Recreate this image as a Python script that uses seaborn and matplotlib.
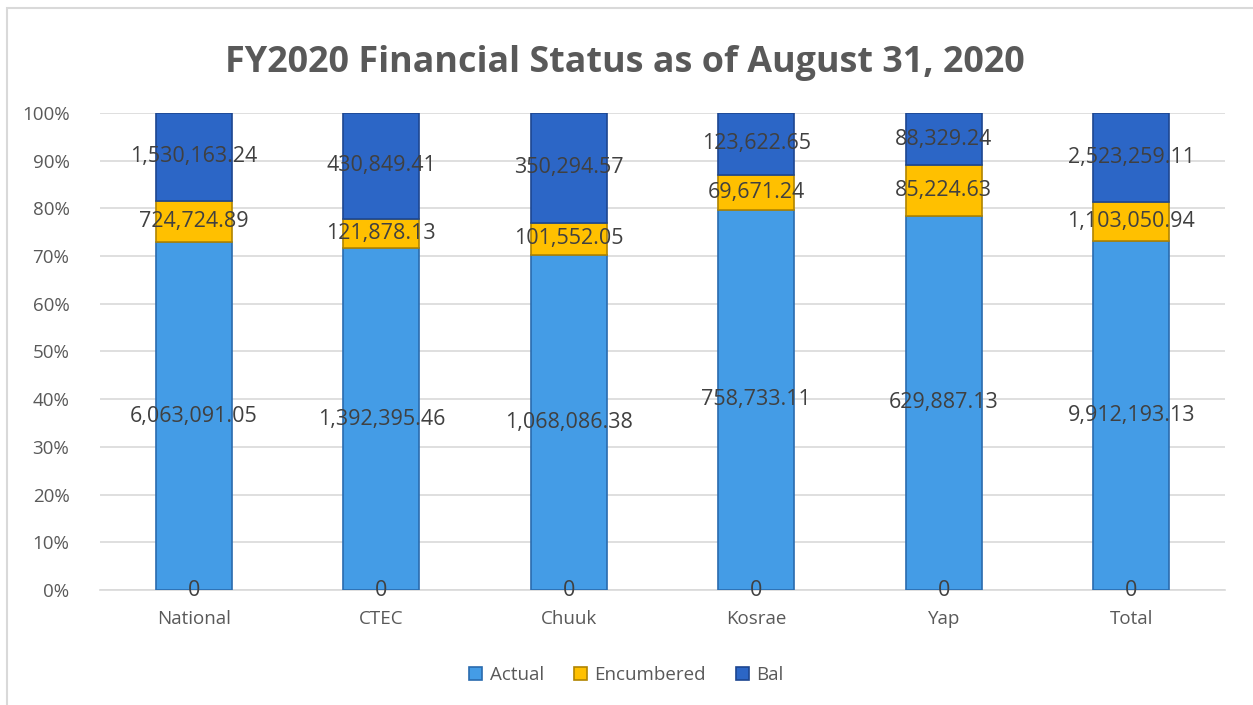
import matplotlib
matplotlib.use("Agg")
import matplotlib.pyplot as plt
from matplotlib.patches import Rectangle
from matplotlib.ticker import PercentFormatter
import seaborn as sns
import numpy as np

categories = ["National", "CTEC", "Chuuk", "Kosrae", "Yap", "Total"]
actual = [6063091.05, 1392395.46, 1068086.38, 758733.11, 629887.13, 9912193.13]
encumbered = [724724.89, 121878.13, 101552.05, 69671.24, 85224.63, 1103050.94]
bal = [1530163.24, 430849.41, 350294.57, 123622.65, 88329.24, 2523259.11]
zero_series = [0, 0, 0, 0, 0, 0]

series_names = ["Actual", "Encumbered", "Bal"]
colors = ["#449CE6", "#FFC000", "#2C66C6"]
edges = ["#2A6BAE", "#B08400", "#1D4690"]

sns.set_style("white")
plt.rcParams["font.family"] = ["Open Sans", "DejaVu Sans"]

vals = np.array([actual, encumbered, bal])
totals = vals.sum(axis=0)
pct = vals / totals * 100

fig = plt.figure(figsize=(12.53, 7.05), dpi=100)
ax = fig.add_axes([0.0798, 0.163, 0.8979, 0.677])

bottom = np.zeros(len(categories))
for i, name in enumerate(series_names):
    sns.barplot(x=categories, y=pct[i], bottom=bottom, color=colors[i], width=0.405,
                saturation=1, edgecolor=edges[i], linewidth=1.2, ax=ax, label=name, zorder=3)
    raw = vals[i]
    for j in range(len(categories)):
        ax.text(j, bottom[j] + pct[i][j] / 2, f"{raw[j]:,.2f}", ha="center", va="center",
                fontsize=15.5, color="#404040", zorder=5)
    bottom = bottom + pct[i]

# the zero-value series labels at the base of each bar
for j, v in enumerate(zero_series):
    ax.text(j, 0, f"{v}", ha="center", va="center", fontsize=15.5, color="#404040", zorder=5)

handles, labels = ax.get_legend_handles_labels()
if ax.get_legend() is not None:
    ax.get_legend().remove()

ax.set_xlim(-0.5, 5.5)
ax.set_ylim(0, 100)
ax.set_yticks(np.arange(0, 101, 10))
ax.yaxis.set_major_formatter(PercentFormatter(decimals=0))
ax.grid(axis="y", color="#D9D9D9", linewidth=1.2, zorder=0)
ax.set_axisbelow(True)
for s in ["top", "right", "left"]:
    ax.spines[s].set_visible(False)
ax.spines["bottom"].set_color("#D9D9D9")
ax.spines["bottom"].set_linewidth(1.2)
ax.tick_params(axis="y", labelsize=13.5, colors="#595959", length=0, pad=22)
ax.tick_params(axis="x", labelsize=13.5, colors="#595959", length=0, pad=14)
ax.set_xlabel("")
ax.set_ylabel("")

fig.text(0.499, 0.91, "FY2020 Financial Status as of August 31, 2020", ha="center", va="center",
         fontsize=25.8, fontweight="bold", color="#595959")

fig.legend(handles, labels, loc="center", bbox_to_anchor=(0.5, 0.043), ncol=3, frameon=False,
           fontsize=13.5, handlelength=0.7, handleheight=0.7, handletextpad=0.4, columnspacing=1.6,
           labelcolor="#595959")

fig.patches.append(Rectangle((7 / 1253, -0.01), 1.02, 1 - 8 / 705 + 0.01, transform=fig.transFigure,
                             fill=False, edgecolor="#D9D9D9", linewidth=1.5))

fig.savefig("out.png", dpi=100)
